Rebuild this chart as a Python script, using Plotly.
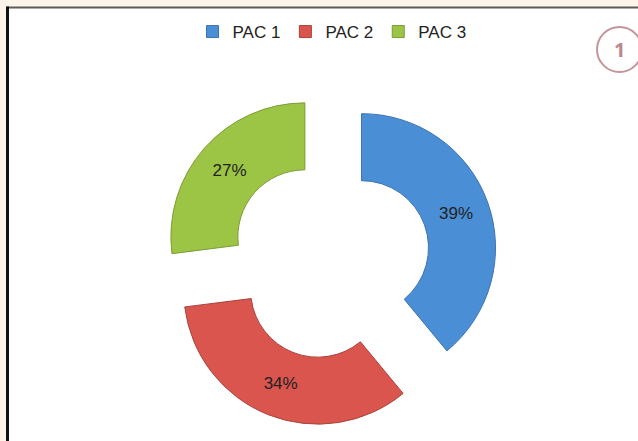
import plotly.graph_objects as go

labels = ["PAC 1", "PAC 2", "PAC 3"]
values = [39, 34, 27]
colors = ["#4a8fd6", "#d9554e", "#9cc445"]
edge_colors = ["#3c72ad", "#a9433d", "#7c9c35"]

W, H = 638, 441

fig = go.Figure(go.Pie(
    labels=labels,
    values=values,
    sort=False,
    direction="clockwise",
    rotation=0,
    hole=0.5,
    pull=[0.25, 0.25, 0.25],
    textinfo="percent",
    textposition="inside",
    insidetextorientation="horizontal",
    textfont=dict(family="Liberation Sans, Arial, sans-serif", size=17, color="#222222"),
    marker=dict(colors=colors, line=dict(color=edge_colors, width=1)),
    domain=dict(x=[(330 - 167.5) / W, (330 + 167.5) / W],
                y=[1 - (259 + 167.5) / H, 1 - (259 - 167.5) / H]),
))

fig.update_layout(
    width=W, height=H,
    margin=dict(l=0, r=0, t=0, b=0),
    paper_bgcolor="#fdf5ea",
    plot_bgcolor="#ffffff",
    showlegend=True,
    legend=dict(
        orientation="h", x=332 / W, xanchor="center", y=1 - 14 / H, yanchor="top",
        font=dict(family="Liberation Sans, Arial, sans-serif", size=17, color="#222222"),
        bgcolor="rgba(0,0,0,0)", itemwidth=30,
    ),
    shapes=[
        dict(type="rect", xref="paper", yref="paper", x0=8 / W, x1=1.02, y0=-0.02, y1=1 - 7 / H,
             fillcolor="#ffffff", line=dict(width=0), layer="below"),
        dict(type="line", xref="paper", yref="paper", x0=6.5 / W, x1=1.02, y0=1 - 7.5 / H, y1=1 - 7.5 / H,
             line=dict(color="#5e5a55", width=2)),
        dict(type="line", xref="paper", yref="paper", x0=7.5 / W, x1=7.5 / W, y0=-0.02, y1=1 - 6.5 / H,
             line=dict(color="#111111", width=3)),
        dict(type="circle", xref="paper", yref="paper",
             x0=597 / W, x1=642 / W, y0=1 - 72 / H, y1=1 - 27 / H,
             line=dict(color="#c4949a", width=2), fillcolor="rgba(0,0,0,0)"),
    ],
    annotations=[
        dict(text="<b>1</b>", xref="paper", yref="paper", x=619 / W, y=1 - 49.5 / H,
             xanchor="center", yanchor="middle",
             showarrow=False, font=dict(family="Open Sans, Arial, sans-serif", size=20, color="#b98a90")),
    ],
)

fig.write_html(
    "out.html",
    config={"displayModeBar": False},
    post_script="document.body.style.margin='0';document.body.style.padding='0';"
                "document.body.style.background='#fdf5ea';document.body.style.overflow='hidden';",
)
